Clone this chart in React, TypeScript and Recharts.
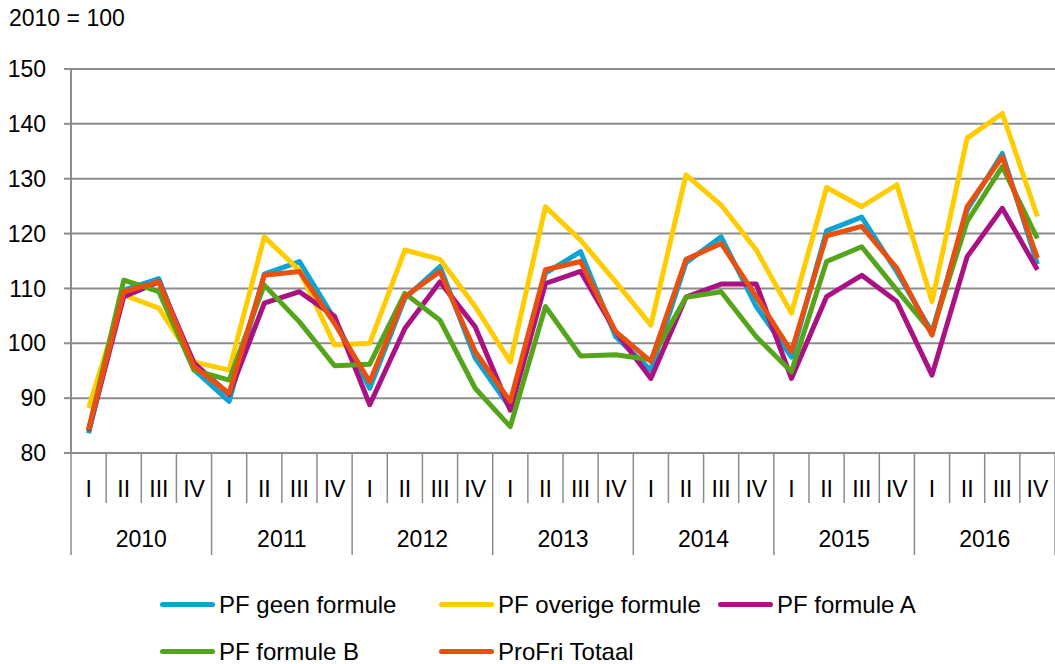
import { LineChart, Line, XAxis, YAxis, CartesianGrid } from 'recharts';

const quarterLabels = ['I', 'II', 'III', 'IV'];
const yearLabels = ['2010', '2011', '2012', '2013', '2014', '2015', '2016'];

const geenFormule = [
  83.6, 109.7, 111.8, 95.2,
  89.4, 112.6, 114.9, 104.4,
  91.8, 108.2, 114.0, 97.3,
  88.2, 112.8, 116.7, 101.2,
  95.1, 114.7, 119.4, 106.7,
  97.5, 120.5, 123.0, 113.0,
  102.0, 124.3, 134.6, 114.4,
];
const overigeFormule = [
  88.2, 108.8, 106.4, 96.6,
  95.1, 119.4, 113.3, 99.7,
  100.0, 117.0, 115.3, 106.7,
  96.6, 124.9, 118.8, 111.2,
  103.3, 130.7, 125.2, 117.0,
  105.5, 128.4, 124.9, 128.9,
  107.6, 137.4, 141.9, 123.1,
];
const formuleA = [
  84.0, 108.5, 111.2, 96.4,
  90.7, 107.3, 109.4, 104.9,
  88.8, 102.7, 111.2, 103.0,
  87.8, 110.9, 113.1, 102.1,
  93.6, 108.4, 110.8, 110.8,
  93.6, 108.5, 112.4, 107.6,
  94.2, 115.8, 124.6, 113.4,
];
const formuleB = [
  84.2, 111.5, 109.4, 95.1,
  93.3, 110.6, 103.9, 95.9,
  96.2, 109.1, 104.2, 91.8,
  84.8, 106.7, 97.7, 97.9,
  97.0, 108.4, 109.4, 101.2,
  94.8, 114.9, 117.6, 109.7,
  102.0, 122.2, 132.2, 119.1,
];
const totaal = [
  84.3, 109.4, 111.2, 95.7,
  90.9, 112.4, 113.1, 103.6,
  93.0, 108.5, 113.1, 98.5,
  89.4, 113.4, 114.9, 102.1,
  96.7, 115.3, 118.2, 108.5,
  98.5, 119.6, 121.3, 113.7,
  101.5, 124.9, 134.0, 115.5,
];
const yTicks = [80, 90, 100, 110, 120, 130, 140, 150];

const series = [
  { key: 'geen', name: 'PF geen formule', color: '#0FA3D1', values: geenFormule },
  { key: 'overige', name: 'PF overige formule', color: '#FFCC00', values: overigeFormule },
  { key: 'a', name: 'PF formule A', color: '#AA1283', values: formuleA },
  { key: 'b', name: 'PF formule B', color: '#55A51C', values: formuleB },
  { key: 'totaal', name: 'ProFri Totaal', color: '#E8500F', values: totaal },
];

const data = geenFormule.map((_, i) => {
  const row: Record<string, string | number> = {
    quarter: quarterLabels[i % 4],
    year: yearLabels[Math.floor(i / 4)],
  };
  series.forEach((s) => (row[s.key] = s.values[i]));
  return row;
});

const W = 1055;
const H = 664;
const LEFT = 71;
const TOP = 69;
const AXIS_H = 211;
const PLOT_W = W - LEFT;
const STEP = PLOT_W / data.length;
const GREY = '#8c8c8c';
const FONT = '"Liberation Sans", Arial, sans-serif';

function QuarterTick(props: any) {
  const { x, y, payload } = props;
  const index = props.index ?? payload.index;
  const left = x - STEP / 2;
  const yearStart = index % 4 === 0;
  return (
    <g>
      <line x1={left} x2={left} y1={y} y2={y + (yearStart ? 102 : 50)} stroke={GREY} strokeWidth={1.5} />
      {index === data.length - 1 && (
        <line x1={x + STEP / 2} x2={x + STEP / 2} y1={y} y2={y + 102} stroke={GREY} strokeWidth={1.5} />
      )}
      <text x={x} y={y + 44} textAnchor="middle" fontSize={23} fill="#000" fontFamily={FONT}>
        {payload.value}
      </text>
      {index % 4 === 1 && (
        <text x={x + STEP / 2} y={y + 94} textAnchor="middle" fontSize={23} fill="#000" fontFamily={FONT}>
          {data[index].year}
        </text>
      )}
    </g>
  );
}

export default function App() {
  return (
    <div style={{ position: 'absolute', left: 0, top: 0, width: W, height: H, background: '#fff', fontFamily: FONT }}>
      <div style={{ position: 'absolute', left: 9, top: 7, fontSize: 23, lineHeight: '23px', color: '#000' }}>
        2010 = 100
      </div>
      <LineChart width={W} height={H} data={data} margin={{ top: TOP, right: 0, bottom: 0, left: 0 }}>
        <CartesianGrid vertical={false} stroke={GREY} strokeWidth={2} />
        <XAxis
          dataKey="quarter"
          interval={0}
          height={AXIS_H}
          padding={{ left: STEP / 2, right: STEP / 2 }}
          tickLine={false}
          tickSize={0}
          tickMargin={0}
          axisLine={{ stroke: GREY, strokeWidth: 2 }}
          tick={<QuarterTick />}
        />
        <YAxis
          domain={[80, 150]}
          ticks={yTicks}
          width={LEFT}
          tickSize={7}
          tickMargin={18}
          tickLine={{ stroke: GREY, strokeWidth: 2 }}
          axisLine={{ stroke: GREY, strokeWidth: 2 }}
          tick={{ fill: '#000', fontSize: 23, fontFamily: FONT }}
        />
        {series.map((s) => (
          <Line
            key={s.key}
            dataKey={s.key}
            name={s.name}
            stroke={s.color}
            strokeWidth={5}
            strokeLinejoin="round"
            dot={false}
            isAnimationActive={false}
          />
        ))}
      </LineChart>
      {series.map((s, i) => (
        <div
          key={s.key}
          style={{
            position: 'absolute',
            left: 160 + (i % 3) * 279,
            top: 593 + Math.floor(i / 3) * 47,
            display: 'flex',
            alignItems: 'center',
            fontSize: 24,
            lineHeight: '23px',
            color: '#000',
            whiteSpace: 'nowrap',
          }}
        >
          <span style={{ display: 'inline-block', width: 55, height: 5, borderRadius: 3, background: s.color, marginRight: 4 }} />
          {s.name}
        </div>
      ))}
    </div>
  );
}
